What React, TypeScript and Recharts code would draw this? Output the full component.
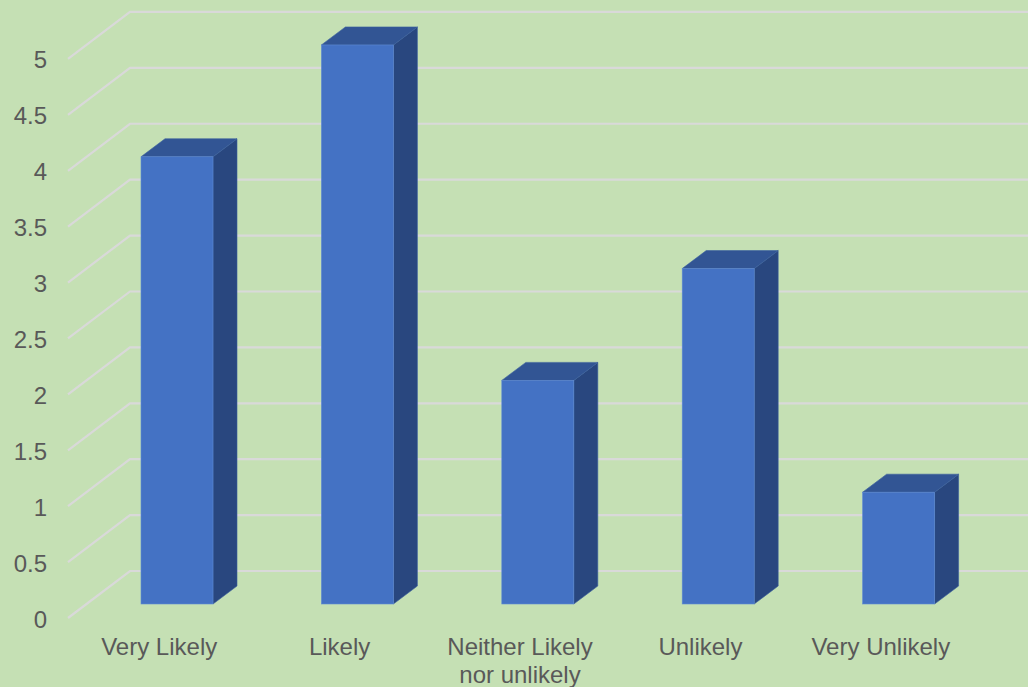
import React from "react";
import { BarChart, Bar, XAxis, YAxis, CartesianGrid } from "recharts";

const categories = ["Very Likely", "Likely", "Neither Likely\nnor unlikely", "Unlikely", "Very Unlikely"];
const responses = [4, 5, 2, 3, 1];
const yTicks = [0, 0.5, 1, 1.5, 2, 2.5, 3, 3.5, 4, 4.5, 5];

const data = categories.map((name, i) => ({ name, value: responses[i] }));

const BG = "#C5E0B4";
const TEXT = "#595959";
const FONT = "'Liberation Sans', Arial, sans-serif";
const FONT_SIZE = 24;
const DX = 24;
const DY = 18;
const PLOT_TOP = 17;

function Bar3D(props: any) {
  const { x, y, width, height } = props;
  const r = x + width;
  const b = y + height;
  return (
    <g>
      <path d={`M${r} ${y}L${r + DX} ${y - DY}V${b - DY}L${r} ${b}Z`} fill="#29477F" stroke="#3A5F9E" strokeWidth={0.6} />
      <path d={`M${x} ${y}L${x + DX} ${y - DY}H${r + DX}L${r} ${y}Z`} fill="#325594" stroke="#3A5F9E" strokeWidth={0.6} />
      <rect x={x} y={y} width={width} height={height} fill="#4472C4" stroke="#5F8AD2" strokeWidth={0.6} />
    </g>
  );
}

function GridLine(props: any) {
  const { x1, x2, y1 } = props;
  if (y1 <= PLOT_TOP + 1) return <g />;
  return (
    <path
      d={`M${x1 - 19} ${y1 + 14}L${x1 + 43} ${y1 - 33}H${x2 + 39}`}
      fill="none"
      stroke="#D9D9D9"
      strokeWidth={2.2}
    />
  );
}

function YTick(props: any) {
  const { x, y, payload } = props;
  return (
    <text x={x} y={y + 15} textAnchor="end" dominantBaseline="central" fontFamily={FONT} fontSize={FONT_SIZE} fill={TEXT}>
      {payload.value}
    </text>
  );
}

function XTick(props: any) {
  const { x, y, payload } = props;
  const lines = String(payload.value).split("\n");
  return (
    <text x={x - 18} y={y + 45} textAnchor="middle" fontFamily={FONT} fontSize={FONT_SIZE} fill={TEXT}>
      {lines.map((line: string, i: number) => (
        <tspan key={line} x={x - 18} dy={i === 0 ? 0 : 28}>
          {line}
        </tspan>
      ))}
    </text>
  );
}

export default function App() {
  return (
    <div style={{ position: "absolute", left: 0, top: 0, width: 1028, height: 687, overflow: "hidden", background: BG }}>
      <BarChart
        width={1028}
        height={687}
        data={data}
        margin={{ top: PLOT_TOP, right: 39, bottom: 0, left: 0 }}
      >
        <CartesianGrid vertical={false} horizontal={GridLine} horizontalValues={yTicks} fill="none" />
        <XAxis
          dataKey="name"
          interval={0}
          height={83}
          axisLine={false}
          tickLine={false}
          tick={XTick}
          tickMargin={0}
        />
        <YAxis
          width={87}
          domain={[0, 5.25]}
          ticks={yTicks}
          interval={0}
          axisLine={false}
          tickLine={false}
          tickMargin={34}
          tick={YTick}
        />
        <Bar dataKey="value" barSize={72} isAnimationActive={false} shape={Bar3D} />
      </BarChart>
    </div>
  );
}
